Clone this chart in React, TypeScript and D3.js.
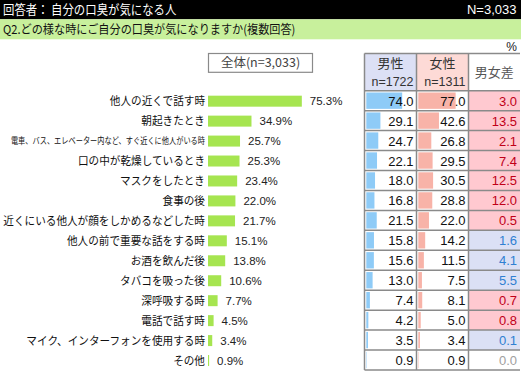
import React from 'react';
import * as d3 from 'd3';

const categories = [
  '他人の近くで話す時',
  '朝起きたとき',
  '電車、バス、エレベーター内など、すぐ近くに他人がいる時',
  '口の中が乾燥しているとき',
  'マスクをしたとき',
  '食事の後',
  '近くにいる他人が顔をしかめるなどした時',
  '他人の前で重要な話をする時',
  'お酒を飲んだ後',
  'タバコを吸った後',
  '深呼吸する時',
  '電話で話す時',
  'マイク、インターフォンを使用する時',
  'その他',
];
const totalValues = [75.3, 34.9, 25.7, 25.3, 23.4, 22.0, 21.7, 15.1, 13.8, 10.6, 7.7, 4.5, 3.4, 0.9];
const maleValues = [74.0, 29.1, 24.7, 22.1, 18.0, 16.8, 21.5, 15.8, 15.6, 13.0, 7.4, 4.2, 3.5, 0.9];
const femaleValues = [77.0, 42.6, 26.8, 29.5, 30.5, 28.8, 22.0, 14.2, 11.5, 7.5, 8.1, 5.0, 3.4, 0.9];
const diffValues = [3.0, 13.5, 2.1, 7.4, 12.5, 12.0, 0.5, 1.6, 4.1, 5.5, 0.7, 0.8, 0.1, 0.0];
const titleText = '回答者： 自分の口臭が気になる人';
const totalNText = 'N=3,033';
const questionText = 'Q2.どの様な時にご自分の口臭が気になりますか(複数回答)';
const totalLabel = '全体(n=3,033)';
const maleLabel = '男性';
const femaleLabel = '女性';
const diffLabel = '男女差';
const maleN = 'n=1722';
const femaleN = 'n=1311';

const JP = '"Noto Sans CJK JP", "Noto Sans", sans-serif';
const NUM = '"Liberation Sans", Arial, sans-serif';

export default function App() {
  const W = 521, H = 372;
  const x = d3.scaleLinear().domain([0, 100]).range([208, 332.6]);
  const y = d3.scaleBand<string>().domain(categories).range([90.7, 370]);
  const tx = d3.scaleLinear().domain([0, 100]).range([0, 48.5]);
  const cols = [364.5, 416.5, 468.5, 520];
  const rh = y.bandwidth();
  const headerTop = 53.5;
  const headerBottom = 90.7;

  return (
    <svg width={W} height={H} style={{ position: 'absolute', left: 0, top: 0 }} xmlns="http://www.w3.org/2000/svg">
      <rect x={0} y={0} width={W} height={H} fill="#fff" />
      {/* title bars */}
      <rect x={0} y={0} width={W} height={19.3} fill="#000" />
      <text transform="translate(3,14) scale(0.89,1)" fill="#fff" fontFamily={JP} fontSize={12.8}>{titleText}</text>
      <text x={516.5} y={14} fill="#fff" fontFamily={NUM} fontSize={13} textAnchor="end">{totalNText}</text>
      <rect x={0} y={19.3} width={W} height={20} fill="#c8f09c" />
      <text transform="translate(3,34) scale(0.9,1)" fill="#111" fontFamily={JP} fontSize={12.4}>{questionText}</text>
      <text x={517} y={51} fill="#222" fontFamily={NUM} fontSize={12} textAnchor="end">%</text>

      {/* total box */}
      <rect x={208.5} y={headerTop} width={104} height={18.8} fill="#fff" stroke="#8a8a8a" strokeWidth={1.2} />
      <text x={260.5} y={headerTop + 13.8} fill="#444" fontFamily={JP} fontSize={12.5} textAnchor="middle">{totalLabel}</text>

      {/* left bars */}
      {categories.map((c, i) => {
        const cy = (y(c) as number) + rh / 2 + 0.5;
        const small = i === 2;
        return (
          <g key={c}>
            <text transform={`translate(205,${cy + (small ? 2.8 : 4.3)}) scale(${small ? 0.82 : 0.9},1)`} fill="#111" fontFamily={JP} fontSize={small ? 8.8 : 11.8} textAnchor="end">{c}</text>
            <rect x={x(0)} y={cy - 5.5} width={x(totalValues[i]) - x(0)} height={11} fill="#a6e550" />
            <text x={x(totalValues[i]) + 8} y={cy + 4} fill="#222" fontFamily={NUM} fontSize={11.5}>{totalValues[i].toFixed(1)}%</text>
          </g>
        );
      })}

      {/* table header */}
      <rect x={cols[0]} y={headerTop} width={cols[1] - cols[0]} height={headerBottom - headerTop} fill="#dce0f5" />
      <rect x={cols[1]} y={headerTop} width={cols[2] - cols[1]} height={headerBottom - headerTop} fill="#fddad6" />
      <rect x={cols[2]} y={headerTop} width={cols[3] - cols[2]} height={headerBottom - headerTop} fill="#fff" />
      <text x={(cols[0] + cols[1]) / 2} y={headerTop + 14.5} fill="#333" fontFamily={JP} fontSize={13} textAnchor="middle">{maleLabel}</text>
      <text x={(cols[1] + cols[2]) / 2} y={headerTop + 14.5} fill="#333" fontFamily={JP} fontSize={13} textAnchor="middle">{femaleLabel}</text>
      <text x={cols[1] - 3} y={headerTop + 32.5} fill="#333" fontFamily={NUM} fontSize={12.5} textAnchor="end">{maleN}</text>
      <text x={cols[2] - 3} y={headerTop + 32.5} fill="#333" fontFamily={NUM} fontSize={12.5} textAnchor="end">{femaleN}</text>
      <text x={(cols[2] + cols[3]) / 2} y={headerTop + 23.5} fill="#555" fontFamily={JP} fontSize={13} textAnchor="middle">{diffLabel}</text>

      {/* table rows */}
      {categories.map((c, i) => {
        const top = y(c) as number;
        const d = femaleValues[i] - maleValues[i];
        const bg = diffValues[i] === 0 ? '#fff' : d > 0 ? '#ffc9d0' : '#dbe0f5';
        const fg = diffValues[i] === 0 ? '#a0a0a0' : d > 0 ? '#c00018' : '#2f7fd2';
        const ty = top + rh / 2 + 5;
        return (
          <g key={'r' + c}>
            <rect x={cols[2]} y={top} width={cols[3] - cols[2]} height={rh} fill={bg} />
            <rect x={cols[0] + 1.8} y={top + 1.8} width={tx(maleValues[i])} height={rh - 3.6} fill="#8ecbf7" />
            <rect x={cols[1] + 1.8} y={top + 1.8} width={tx(femaleValues[i])} height={rh - 3.6} fill="#f8b3a8" />
            <text x={cols[1] - 3} y={ty} fill="#111" fontFamily={NUM} fontSize={13} textAnchor="end">{maleValues[i].toFixed(1)}</text>
            <text x={cols[2] - 3} y={ty} fill="#111" fontFamily={NUM} fontSize={13} textAnchor="end">{femaleValues[i].toFixed(1)}</text>
            <text x={cols[3] - 3} y={ty} fill={fg} fontFamily={NUM} fontSize={13} textAnchor="end">{diffValues[i].toFixed(1)}</text>
          </g>
        );
      })}

      {/* grid lines */}
      <g stroke="#8a8a8a" strokeWidth={1.5} fill="none">
        <line x1={cols[0]} x2={cols[3]} y1={headerTop} y2={headerTop} />
        <line x1={cols[0]} x2={cols[3]} y1={headerBottom} y2={headerBottom} />
        {categories.map((c) => {
          const b = (y(c) as number) + rh;
          return <line key={'h' + c} x1={cols[0]} x2={cols[3]} y1={b} y2={b} />;
        })}
        {cols.slice(0, 3).map((cx, j) => (
          <line key={'v' + j} x1={cx} x2={cx} y1={headerTop} y2={370} />
        ))}
      </g>
    </svg>
  );
}
